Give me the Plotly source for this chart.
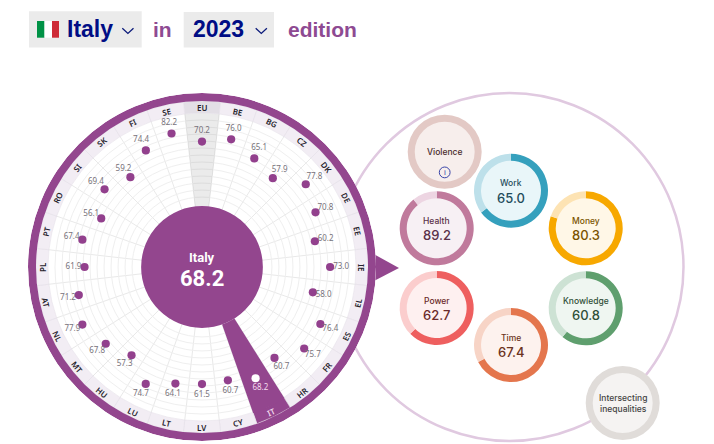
import math
import plotly.graph_objects as go

W, H = 714, 444
cx, cy, R = 202, 267, 174
rmin, rmax = -60.4, 120.8

scores = {"EU": 70.2, "BE": 76.0, "BG": 65.1, "CZ": 57.9, "DK": 77.8, "DE": 70.8, "EE": 60.2,
          "IE": 73.0, "EL": 58.0, "ES": 76.4, "FR": 75.7, "HR": 60.7, "IT": 68.2, "CY": 60.7,
          "LV": 61.5, "LT": 64.1, "LU": 74.7, "HU": 57.3, "MT": 67.8, "NL": 77.9, "AT": 71.2,
          "PL": 61.9, "PT": 67.4, "RO": 56.1, "SI": 69.4, "SK": 59.2, "FI": 74.4, "SE": 82.2}
codes = list(scores.keys())
values = list(scores.values())
step = 360 / len(codes)
thetas = [i * step for i in range(len(codes))]

purple = "#93468e"

# name, score, x, y, strong colour, pale colour, fill, text colour
domains = [
    ("Violence", None, 444.7, 151.7, "#e3c9c5", "#e3c9c5", "#f7eeec", "#4a2c2c"),
    ("Work", 65.0, 511, 190.7, "#35a0bd", "#bde0ea", "#e9f6f9", "#1f4d5c"),
    ("Health", 89.2, 436.7, 228.3, "#c07a9c", "#edd5e2", "#f7f0f4", "#5a3049"),
    ("Money", 80.3, 585.7, 228.3, "#f7a800", "#fde3b3", "#fff7e7", "#7a5300"),
    ("Knowledge", 60.8, 585.7, 308.3, "#5f9f6e", "#cde2d4", "#eff6f1", "#2f4f37"),
    ("Power", 62.7, 436.7, 308, "#ee5f5f", "#fbcdcd", "#fef0f0", "#6b2a2a"),
    ("Time", 67.4, 511, 345, "#e4764d", "#f7d4c6", "#fdf2ee", "#6b3320"),
    ("Intersecting<br>inequalities", None, 622.7, 403, "#e0dcd9", "#e0dcd9", "#f5f3f2", "#444444"),
]
bubble_r = 37

fig = go.Figure()

# pointer between the wheel and the domains circle
fig.add_trace(go.Scatter(x=[370, 399, 370, 370], y=[252, 268, 283, 252], mode="lines", fill="toself",
                         fillcolor=purple, line=dict(width=0), hoverinfo="skip", showlegend=False))

# header chevrons
for x0 in [122.3, 255.7]:
    fig.add_trace(go.Scatter(x=[x0, x0 + 5.6, x0 + 11.2], y=[28.2, 33.4, 28.2], mode="lines",
                             line=dict(color="#0b1a7a", width=1.3), hoverinfo="skip", showlegend=False))

# wheel
fig.add_trace(go.Barpolar(theta=[0], r=[96.9], base=[3], width=[step], marker=dict(color="rgba(110,110,110,0.14)", line=dict(width=0)),
                          hoverinfo="skip", showlegend=False))
band_colors = []
for c in codes:
    if c == "EU":
        band_colors.append("#e3dfe6")
    elif c == "IT":
        band_colors.append(purple)
    else:
        band_colors.append("#f2edf4")
fig.add_trace(go.Barpolar(theta=thetas, r=[12.5] * len(codes), base=[100] * len(codes), width=[step] * len(codes),
                          marker=dict(color=band_colors, line=dict(color="#e6e1ea", width=0.6)),
                          hoverinfo="skip", showlegend=False))
fig.add_trace(go.Barpolar(theta=[thetas[codes.index("IT")]], r=[98], base=[3], width=[step],
                          marker=dict(color=purple, line=dict(width=0)), hoverinfo="skip", showlegend=False))
fig.add_trace(go.Barpolar(theta=[0], r=[rmax - 112.5], base=[112.5], width=[360],
                          marker=dict(color=purple, line=dict(width=0)), hoverinfo="skip", showlegend=False))
fig.add_trace(go.Barpolar(theta=[0], r=[3 - rmin], base=[rmin], width=[360],
                          marker=dict(color=purple, line=dict(width=0)), hoverinfo="skip", showlegend=False))

dot_colors = ["white" if c == "IT" else "#92408d" for c in codes]
label_colors = ["#f3dcef" if c == "IT" else "#77727a" for c in codes]
fig.add_trace(go.Scatterpolar(theta=thetas, r=values, mode="markers", marker=dict(color=dot_colors, size=8.2),
                              hoverinfo="skip", showlegend=False))
fig.add_trace(go.Scatterpolar(theta=thetas, r=[v + 11.5 for v in values], mode="text",
                              text=["%.1f" % v for v in values], textfont=dict(size=8, color=label_colors, family="Noto Sans"),
                              hoverinfo="skip", showlegend=False))

# domain bubbles
for name, score, x, y, strong, pale, fill, txt in domains:
    vals = [score, 100 - score] if score is not None else [100, 0]
    fig.add_trace(go.Pie(values=vals, sort=False, direction="clockwise", rotation=0, hole=0.81,
                         marker=dict(colors=[strong, pale], line=dict(width=0)),
                         textinfo="none", hoverinfo="skip", showlegend=False,
                         domain=dict(x=[(x - bubble_r) / W, (x + bubble_r) / W],
                                     y=[1 - (y + bubble_r) / H, 1 - (y - bubble_r) / H])))

shapes = [
    dict(type="circle", x0=335.5, x1=683.5, y0=93, y1=441, line=dict(color="#e0c9e0", width=2.5), layer="below"),
    dict(type="rect", x0=29, x1=141.7, y0=11.3, y1=47.6, fillcolor="#ebebeb", line_width=0, layer="below"),
    dict(type="rect", x0=183.7, x1=274, y0=12, y1=47.6, fillcolor="#ebebeb", line_width=0, layer="below"),
    dict(type="rect", x0=37, x1=44.5, y0=21, y1=37.7, fillcolor="#009246", line_width=0, layer="below"),
    dict(type="rect", x0=44.5, x1=52, y0=21, y1=37.7, fillcolor="#ffffff", line_width=0, layer="below"),
    dict(type="rect", x0=52, x1=59, y0=21, y1=37.7, fillcolor="#ce2b37", line_width=0, layer="below"),
]
annotations = []


def note(x, y, text, size, color, bold=False, family="Liberation Sans", angle=0, weight=None):
    font = dict(size=size, color=color, family=family)
    if weight:
        font["weight"] = weight
    annotations.append(dict(x=x, y=y, xref="x", yref="y", text="<b>%s</b>" % text if bold else text, showarrow=False,
                            textangle=angle, font=font))


for name, score, x, y, strong, pale, fill, txt in domains:
    shapes.append(dict(type="circle", x0=x - bubble_r + 2, x1=x + bubble_r - 2, y0=y - bubble_r + 2, y1=y + bubble_r - 2,
                       fillcolor=fill, line_width=0, layer="below"))
    if score is None:
        note(x, y, name, 8.5, txt, family="Inter", weight=500)
    else:
        note(x, y - 7.5, name, 8.5, txt, family="Inter", weight=500)
        note(x, y + 7, "%.1f" % score, 13, txt, family="Inter", weight=500)

# info icon on violence
shapes.append(dict(type="circle", x0=439.3, x1=450.1, y0=167, y1=177.8, line=dict(color="#3a45a8", width=1), layer="above"))
note(444.7, 172.4, "i", 8, "#3a45a8")

# country codes round the band
for c, t in zip(codes, thetas):
    a = math.radians(t)
    rot = t - 180 if 90 < t < 270 else (t - 360 if t >= 270 else t)
    note(cx + 160 * math.sin(a), cy - 160 * math.cos(a), c, 8, "#f3dcef" if c == "IT" else "#26232c",
         family="Noto Sans", angle=rot, weight=600)

note(202, 257, "Italy", 13, "white", bold=True, family="Roboto")
note(202, 278.5, "68.2", 22, "white", bold=True, family="Roboto")

note(90, 29, "Italy", 23, "#000d85", bold=True)
note(218, 29, "2023", 23, "#000d85", bold=True)
note(162, 29, "in", 21, "#8e4a92", bold=True)
note(322, 29, "edition", 21, "#8e4a92", bold=True)

rings = [100 - 7.3 * k for k in range(1, 13)]

fig.update_layout(
    width=W, height=H, margin=dict(l=0, r=0, t=0, b=0), paper_bgcolor="white", plot_bgcolor="rgba(0,0,0,0)",
    xaxis=dict(range=[0, W], domain=[0, 1], visible=False, fixedrange=True),
    yaxis=dict(range=[H, 0], domain=[0, 1], visible=False, fixedrange=True),
    shapes=shapes, annotations=annotations,
    polar=dict(
        domain=dict(x=[(cx - R) / W, (cx + R) / W], y=[1 - (cy + R) / H, 1 - (cy - R) / H]),
        bgcolor="white", barmode="overlay",
        radialaxis=dict(range=[rmin, rmax], tickmode="array", tickvals=rings, showticklabels=False, ticks="",
                        showline=False, gridcolor="#efefef", gridwidth=0.7),
        angularaxis=dict(rotation=90, direction="clockwise", tickmode="array", tickvals=[t + step / 2 for t in thetas],
                         showticklabels=False, ticks="", showline=False, gridcolor="#e9e9e9", gridwidth=0.8),
    ),
)
fig.write_html("out.html", post_script="document.body.style.margin='0';", config=dict(displayModeBar=False))
